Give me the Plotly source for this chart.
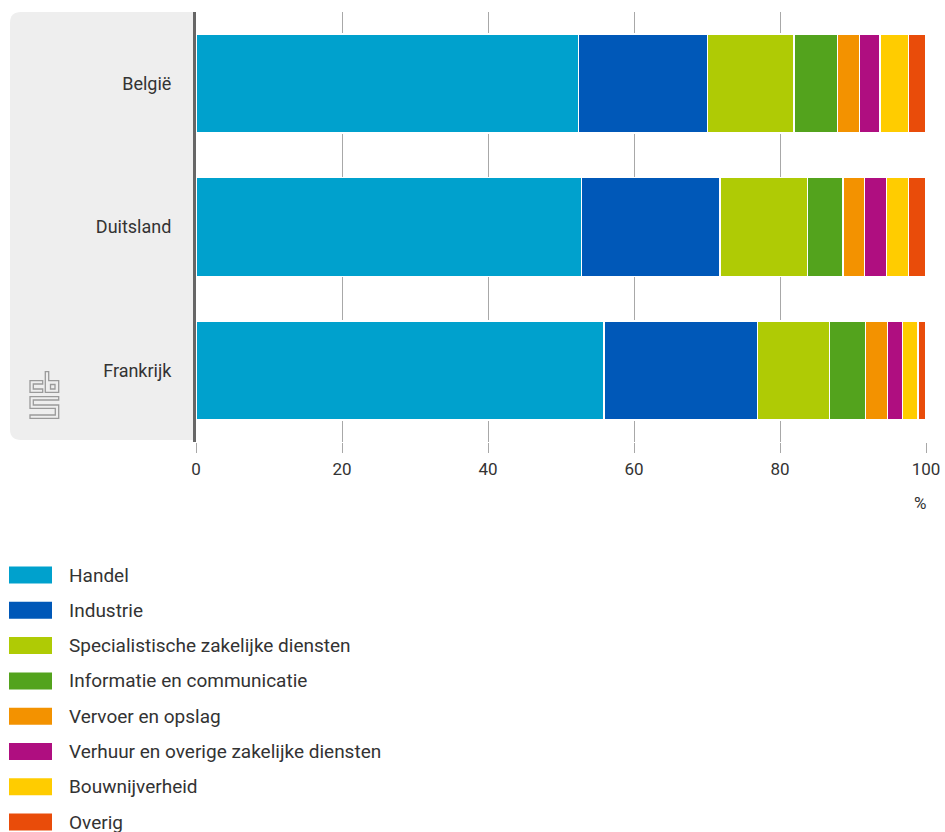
import plotly.graph_objects as go

countries = ["België", "Duitsland", "Frankrijk"]
sectors = [
    "Handel",
    "Industrie",
    "Specialistische zakelijke diensten",
    "Informatie en communicatie",
    "Vervoer en opslag",
    "Verhuur en overige zakelijke diensten",
    "Bouwnijverheid",
    "Overig",
]
handel = [52.4, 52.8, 55.9]
industrie = [17.7, 19.0, 21.0]
specialistisch = [11.8, 12.0, 9.9]
informatie = [6.0, 4.8, 4.9]
vervoer = [3.0, 3.0, 3.0]
verhuur = [2.8, 3.0, 2.1]
bouw = [3.9, 3.0, 2.1]
overig = [2.4, 2.4, 1.1]
series = [handel, industrie, specialistisch, informatie, vervoer, verhuur, bouw, overig]
colors = ["#00a1cd", "#0058b8", "#afcb05", "#53a31d", "#f39200", "#af0e80", "#ffcc00", "#e94c0a"]
x_ticks = [0, 20, 40, 60, 80, 100]

W, H = 945, 832
PLOT_L, PLOT_R, PLOT_T, PLOT_B = 196, 926, 12, 442  # page pixels
L, T = PLOT_L, PLOT_T
R, B = W - PLOT_R, H - PLOT_B
PW, PH = PLOT_R - PLOT_L, PLOT_B - PLOT_T
FONT = "Roboto"


def px(x):
    return (x - PLOT_L) / PW


def py(y):
    return (PLOT_B - y) / PH


fig = go.Figure()
for name, vals, col in zip(sectors, series, colors):
    fig.add_trace(go.Bar(
        y=countries, x=vals, name=name, orientation="h",
        marker=dict(color=col, line=dict(color="white", width=1.5)),
        showlegend=False,
        hovertemplate="%{y}: %{x}%<extra>" + name + "</extra>",
    ))

shapes = []
# grey rounded panel behind category labels
x0, x1, yt, yb = px(10), px(196), py(12), py(440)
rx, ry = 11 / PW, 11 / PH
shapes.append(dict(
    type="path", xref="paper", yref="paper", layer="below",
    path=(f"M{x1},{yt} L{x0+rx},{yt} Q{x0},{yt} {x0},{yt-ry} "
          f"L{x0},{yb+ry} Q{x0},{yb} {x0+rx},{yb} L{x1},{yb} Z"),
    fillcolor="#eeeeee", line=dict(width=0),
))


def poly(pts):
    s = "M" + " L".join(f"{px(a)},{py(b)}" for a, b in pts) + " Z"
    return dict(type="path", xref="paper", yref="paper", path=s,
                fillcolor="rgba(0,0,0,0)", line=dict(color="#9a9a9a", width=1.3))


# CBS logo (approximate outline)
shapes.append(poly([(42.7, 380.7), (30, 380.7), (30, 392.3), (42.7, 392.3), (42.7, 389), (33.3, 389), (33.3, 384), (42.7, 384)]))
shapes.append(poly([(45.3, 371.7), (45.3, 392.3), (58.7, 392.3), (58.7, 380.7), (48.7, 380.7), (48.7, 371.7)]))
shapes.append(poly([(50.5, 384.5), (55, 384.5), (55, 389), (50.5, 389)]))
shapes.append(poly([(58.7, 396.7), (30, 396.7), (30, 408.3), (55.3, 408.3), (55.3, 415), (30, 415), (30, 418.3),
                    (58.7, 418.3), (58.7, 405), (33.3, 405), (33.3, 400), (58.7, 400)]))

annotations = [dict(text="%", xref="paper", yref="paper", x=px(919.5), y=py(503),
                    xanchor="center", yanchor="middle", showarrow=False,
                    font=dict(family=FONT, size=17, color="#333333"))]

# legend (manual, wide swatches)
leg_y0, leg_dy = 575, 35.3
for i, (name, col) in enumerate(zip(sectors, colors)):
    yc = leg_y0 + i * leg_dy
    shapes.append(dict(type="rect", xref="paper", yref="paper",
                       x0=px(9), x1=px(52), y0=py(yc - 8.5), y1=py(yc + 8.5),
                       fillcolor=col, line=dict(width=0)))
    annotations.append(dict(text=name, xref="paper", yref="paper", x=px(67), y=py(yc),
                            xanchor="left", yanchor="middle", showarrow=False,
                            font=dict(family=FONT, size=19, color="#333333")))

fig.update_layout(
    width=W, height=H, autosize=False,
    margin=dict(l=L, r=R, t=T, b=B, pad=0, autoexpand=False),
    barmode="stack", bargap=0.31,
    paper_bgcolor="white", plot_bgcolor="white",
    font=dict(family=FONT, size=17, color="#333333"),
    shapes=shapes, annotations=annotations,
    xaxis=dict(range=[0, 100], tickvals=x_ticks, ticktext=[str(v) for v in x_ticks],
               showgrid=True, gridcolor="#a8a8a8", gridwidth=1,
               ticks="outside", ticklen=10, tickcolor="#a8a8a8", tickwidth=1,
               ticklabelstandoff=2, ticklabeloverflow="allow", automargin=False,
               zeroline=False, showline=False,
               tickfont=dict(family=FONT, size=17, color="#333333"), fixedrange=True),
    yaxis=dict(autorange="reversed", showline=True, linecolor="#666666", linewidth=3,
               ticks="", showgrid=False, zeroline=False, ticklabelstandoff=18,
               automargin=False,
               tickfont=dict(family=FONT, size=18, color="#333333"), fixedrange=True),
)

fig.write_html(
    "out.html",
    config={"displayModeBar": False, "responsive": False},
    post_script=("document.documentElement.style.overflow='hidden';"
                 "document.body.style.overflow='hidden';"
                 "document.body.style.margin='0px';"),
)
